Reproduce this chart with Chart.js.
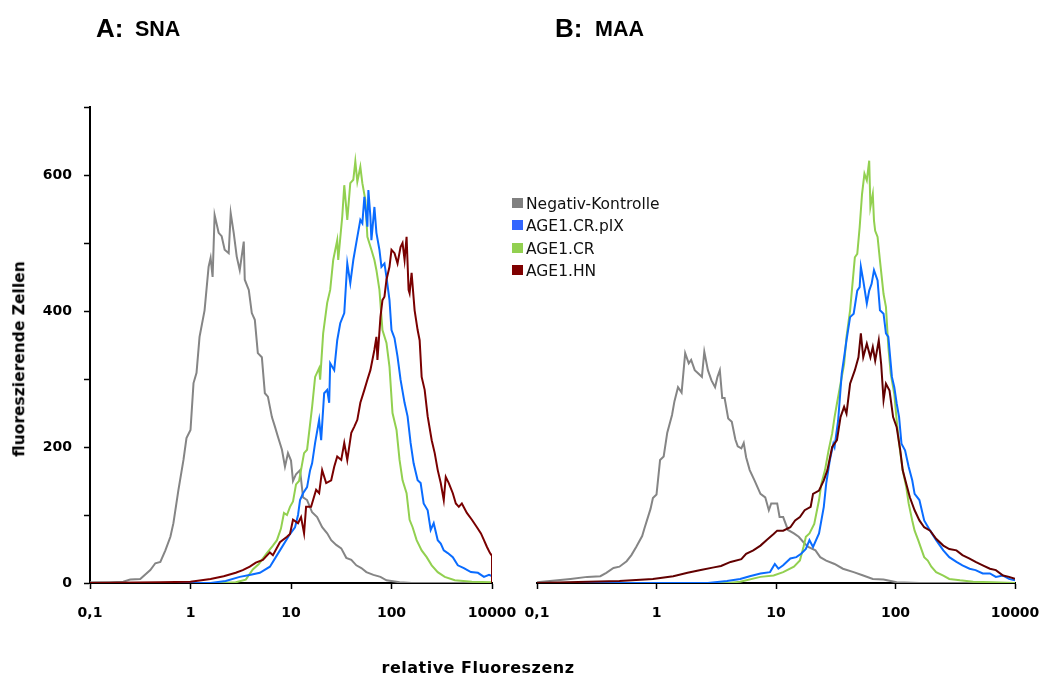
<!DOCTYPE html>
<html>
<head>
<meta charset="utf-8">
<script src="https://cdn.jsdelivr.net/npm/chart.js@4.4.1/dist/chart.umd.min.js"></script>
<style>
html,body{margin:0;padding:0;background:#fff;}
#wrap{position:relative;width:1042px;height:676px;overflow:hidden;background:#fff;}
canvas{position:absolute;top:0;}
.t{position:absolute;font-family:"Liberation Sans",Arial,sans-serif;font-weight:bold;color:#000;white-space:nowrap;line-height:1;}
.big{font-size:26px;}
.small{font-size:21.5px;}
.ax{position:absolute;font-family:"DejaVu Sans",Verdana,sans-serif;font-weight:bold;color:#000;white-space:nowrap;line-height:1;}
.lg{position:absolute;left:512px;font-family:"DejaVu Sans",Verdana,sans-serif;font-size:15.5px;color:#111;white-space:nowrap;line-height:1;z-index:5;}
.lg span.sw{display:inline-block;width:11px;height:10px;margin-right:3px;vertical-align:1px;}
</style>
</head>
<body>
<div id="wrap">
  <canvas id="cB" width="560" height="676" style="left:500px;width:560px;height:676px;"></canvas>
  <canvas id="cA" width="540" height="676" style="left:0px;width:540px;height:676px;"></canvas>

  <div class="t big" style="left:96px;top:15px;">A:</div>
  <div class="t small" style="left:135px;top:19px;">SNA</div>
  <div class="t big" style="left:555px;top:15px;">B:</div>
  <div class="t small" style="left:595px;top:19px;">MAA</div>

  <div class="ax" style="left:20px;top:359px;font-size:15.5px;transform:translate(-50%,-50%) rotate(-90deg);">fluoreszierende Zellen</div>
  <div class="ax" style="left:478px;top:668px;font-size:16px;letter-spacing:0.5px;transform:translate(-50%,-50%);">relative Fluoreszenz</div>

  <div id="legend"></div>
</div>
<script>
// ---- tick labels ----
const xTickLabels = ['0,1', '1', '10', '100', '10000'];
const yLabelValues = [0, 200, 400, 600];

// ---- series names / colours ----
const seriesNames = ['Negativ-Kontrolle', 'AGE1.CR.pIX', 'AGE1.CR', 'AGE1.HN'];
const seriesColors = ['#858585', '#0a6cff', '#92d050', '#7a0000'];
const legendColors = ['#808080', '#3366ff', '#92d050', '#7f0000'];

// ---- x in decades (log10 of relative fluorescence) ----
// Panel A: SNA
const snaNegX = [-1.00,-0.80,-0.67,-0.60,-0.50,-0.40,-0.35,-0.30,-0.25,-0.20,-0.17,-0.12,-0.07,-0.04,0.00,0.03,0.06,0.09,0.14,0.18,0.20,0.22,0.24,0.28,0.31,0.34,0.38,0.40,0.43,0.46,0.49,0.53,0.54,0.58,0.61,0.64,0.67,0.71,0.74,0.77,0.81,0.84,0.87,0.91,0.94,0.97,1.00,1.02,1.05,1.09,1.12,1.16,1.21,1.26,1.31,1.36,1.40,1.45,1.50,1.55,1.60,1.65,1.70,1.75,1.82,1.89,1.95,2.08,2.20,3.00];
const snaNegY = [1,1,2,5,6,19,29,31,48,68,88,137,181,213,225,294,309,362,401,465,478,450,541,515,510,490,485,544,515,480,460,502,446,431,397,387,338,332,279,274,244,230,215,196,171,191,180,150,160,166,126,122,104,97,82,73,63,56,51,37,34,26,22,16,12,9,4,1,0,0];

const snaPixX = [-1.00,0.20,0.35,0.49,0.60,0.69,0.79,0.89,0.99,1.04,1.07,1.09,1.12,1.16,1.19,1.21,1.24,1.28,1.30,1.33,1.36,1.38,1.39,1.43,1.46,1.49,1.53,1.56,1.59,1.62,1.66,1.69,1.71,1.73,1.76,1.77,1.79,1.80,1.83,1.85,1.88,1.90,1.93,1.95,1.98,2.00,2.03,2.06,2.09,2.13,2.16,2.19,2.22,2.26,2.29,2.32,2.36,2.39,2.42,2.46,2.49,2.52,2.56,2.61,2.66,2.72,2.79,2.86,2.92,2.97,3.00];
const snaPixY = [0,0,3,9,12,15,24,48,72,82,100,122,132,141,166,176,206,240,210,279,284,265,323,313,357,382,397,470,441,475,509,534,529,568,524,578,539,504,553,515,490,465,470,450,416,372,360,333,299,265,245,206,176,151,147,117,107,78,88,63,58,48,44,38,26,22,16,15,9,12,10];

const snaCrX = [-1.00,0.30,0.45,0.55,0.62,0.68,0.76,0.82,0.86,0.90,0.93,0.96,0.99,1.02,1.05,1.08,1.13,1.16,1.21,1.24,1.28,1.29,1.32,1.36,1.39,1.42,1.46,1.47,1.51,1.53,1.56,1.59,1.62,1.64,1.66,1.69,1.71,1.74,1.76,1.80,1.83,1.85,1.88,1.91,1.95,1.98,2.01,2.05,2.08,2.11,2.15,2.18,2.21,2.25,2.30,2.35,2.40,2.46,2.53,2.63,2.80,3.00];
const snaCrY = [0,0,1,5,20,28,44,55,63,80,103,100,112,120,145,150,191,196,259,303,316,299,367,412,431,475,504,475,539,585,534,588,593,620,590,612,588,563,509,490,475,460,431,372,353,318,250,225,181,151,132,93,82,63,48,38,26,16,9,4,2,1];

const snaHnX = [-1.00,-0.30,0.00,0.20,0.33,0.45,0.52,0.59,0.65,0.72,0.79,0.82,0.89,0.96,0.99,1.02,1.07,1.10,1.13,1.15,1.20,1.25,1.28,1.31,1.35,1.40,1.43,1.46,1.50,1.53,1.56,1.60,1.63,1.66,1.69,1.73,1.76,1.79,1.83,1.85,1.86,1.89,1.91,1.93,1.95,1.98,2.00,2.03,2.06,2.09,2.11,2.13,2.15,2.17,2.18,2.20,2.23,2.26,2.28,2.30,2.33,2.36,2.40,2.43,2.46,2.49,2.52,2.54,2.57,2.61,2.64,2.67,2.70,2.75,2.80,2.85,2.89,2.92,2.95,2.98,3.00,3.00];
const snaHnY = [0,1,2,6,10,15,19,24,30,34,45,41,60,68,72,93,88,97,73,112,112,137,132,166,147,151,171,186,181,206,181,221,230,240,265,284,299,313,343,362,328,391,416,421,446,465,490,485,470,494,500,475,509,431,426,456,401,372,357,303,284,245,210,191,166,147,122,156,147,132,117,112,117,103,93,82,73,63,53,44,40,0];

// Panel B: MAA
const maaNegX = [-1.00,-0.72,-0.58,-0.47,-0.42,-0.36,-0.31,-0.25,-0.21,-0.17,-0.12,-0.10,-0.05,-0.03,0.00,0.03,0.06,0.09,0.13,0.15,0.18,0.21,0.24,0.27,0.29,0.32,0.35,0.38,0.40,0.43,0.46,0.49,0.51,0.53,0.55,0.57,0.60,0.63,0.66,0.68,0.71,0.73,0.75,0.78,0.82,0.87,0.91,0.94,0.96,1.01,1.03,1.06,1.10,1.15,1.19,1.23,1.27,1.33,1.37,1.42,1.49,1.56,1.65,1.73,1.81,1.90,2.01,2.20,3.00];
const maaNegY = [1,6,9,10,15,22,24,32,41,53,69,81,109,125,130,181,186,221,247,267,288,280,338,323,328,313,308,303,340,313,298,288,303,313,272,272,242,237,211,201,198,206,185,166,151,131,126,107,117,117,97,97,78,73,68,60,53,48,38,33,28,21,16,11,6,5,1,0,0];

const maaPixX = [-1.00,0.43,0.59,0.70,0.78,0.87,0.95,0.99,1.02,1.06,1.12,1.17,1.21,1.25,1.28,1.31,1.36,1.40,1.42,1.45,1.48,1.49,1.52,1.55,1.57,1.59,1.62,1.65,1.68,1.70,1.71,1.73,1.76,1.78,1.80,1.82,1.85,1.87,1.90,1.92,1.94,1.97,1.99,2.01,2.03,2.05,2.08,2.11,2.14,2.16,2.20,2.24,2.29,2.34,2.40,2.45,2.51,2.56,2.62,2.67,2.73,2.79,2.84,2.90,2.95,3.00];
const maaPixY = [0,0,3,6,10,14,16,28,21,26,36,38,43,50,63,53,73,112,146,180,205,200,239,308,332,357,391,396,430,435,465,445,411,430,440,460,445,401,396,367,362,303,288,264,244,205,195,171,151,131,122,92,77,63,48,38,31,26,21,19,14,14,9,11,6,4];

const maaCrX = [-1.00,0.60,0.70,0.87,0.98,1.06,1.15,1.20,1.23,1.25,1.28,1.32,1.36,1.38,1.41,1.44,1.47,1.49,1.51,1.54,1.57,1.59,1.62,1.64,1.66,1.68,1.70,1.72,1.74,1.76,1.78,1.79,1.81,1.82,1.83,1.85,1.87,1.90,1.92,1.94,1.96,1.99,2.01,2.03,2.06,2.09,2.11,2.14,2.16,2.19,2.22,2.24,2.27,2.30,2.34,2.40,2.45,2.54,2.65,2.81,3.00];
const maaCrY = [0,0,2,9,11,16,24,33,53,68,73,87,122,146,166,195,220,244,264,293,322,362,401,440,479,484,523,572,602,592,621,553,572,533,518,509,474,425,406,347,308,278,239,205,166,141,117,92,77,63,48,38,33,24,16,11,6,4,2,1,0];

const maaHnX = [-1.00,-0.31,-0.03,0.14,0.26,0.37,0.48,0.54,0.62,0.71,0.75,0.81,0.87,0.92,0.98,1.01,1.06,1.12,1.16,1.20,1.24,1.29,1.31,1.36,1.40,1.43,1.47,1.51,1.54,1.57,1.59,1.62,1.66,1.69,1.71,1.73,1.76,1.79,1.81,1.83,1.86,1.88,1.90,1.92,1.95,1.98,2.01,2.04,2.06,2.09,2.12,2.16,2.20,2.24,2.29,2.34,2.40,2.45,2.51,2.56,2.62,2.67,2.73,2.79,2.84,2.90,2.95,3.00];
const maaHnY = [0,3,6,10,15,19,23,25,31,35,43,48,55,63,72,77,77,82,92,97,107,112,131,136,151,166,200,210,244,259,249,293,313,332,367,332,352,332,347,327,357,322,269,293,283,244,229,195,166,146,126,107,92,82,77,65,55,50,48,41,36,31,26,21,19,11,9,6];

function pts(xs, ys) { return xs.map((x, i) => ({x: x, y: ys[i]})); }

const tickFont = {family: 'DejaVu Sans', weight: 'bold', size: 14};

function makeDatasets(neg, pix, cr, hn, hnColor) {
  const mk = (label, data, color, order) => ({
    label, data, borderColor: color, backgroundColor: color,
    borderWidth: 2, pointRadius: 0, pointHoverRadius: 0, fill: false, tension: 0, order
  });
  return [
    mk(seriesNames[3], hn, hnColor, 0),
    mk(seriesNames[1], pix, seriesColors[1], 1),
    mk(seriesNames[2], cr, seriesColors[2], 2),
    mk(seriesNames[0], neg, seriesColors[0], 3)
  ];
}

function makeChart(id, datasets, showY, padding) {
  return new Chart(document.getElementById(id), {
    type: 'line',
    data: {datasets},
    options: {
      responsive: false,
      animation: false,
      events: [],
      layout: {padding},
      plugins: {legend: {display: false}, tooltip: {enabled: false}},
      scales: {
        x: {
          type: 'linear', min: -1, max: 3,
          ticks: {
            stepSize: 1, autoSkip: false, maxRotation: 0, color: '#000', font: tickFont, padding: 16,
            callback: (v, i) => xTickLabels[i]
          },
          grid: {drawOnChartArea: false, drawTicks: true, tickLength: 6, tickColor: '#000', tickWidth: 1.5, color: '#000'},
          border: {display: true, color: '#000', width: 2},
          afterFit: s => { s.height = 60; }
        },
        y: {
          display: showY,
          min: 0, max: 700,
          ticks: {
            stepSize: 100, color: '#000', font: tickFont, padding: 12,
            callback: v => (yLabelValues.includes(v) ? String(v) : '')
          },
          grid: {drawOnChartArea: false, drawTicks: true, tickLength: 6, tickColor: '#000', tickWidth: 1.5, color: '#000'},
          border: {display: true, color: '#000', width: 2},
          afterFit: s => { if (showY) s.width = 90; }
        }
      }
    }
  });
}

// canvas A: x 0..540, plot area 90..492
makeChart('cA', makeDatasets(pts(snaNegX, snaNegY), pts(snaPixX, snaPixY), pts(snaCrX, snaCrY), pts(snaHnX, snaHnY), '#7a0000'),
  true, {left: 0, top: 107, right: 48, bottom: 33});
// canvas B: x 500..1060, plot area 537..1015
makeChart('cB', makeDatasets(pts(maaNegX, maaNegY), pts(maaPixX, maaPixY), pts(maaCrX, maaCrY), pts(maaHnX, maaHnY), '#620000'),
  false, {left: 37, top: 107, right: 45, bottom: 33});

// legend (HTML)
const lg = document.getElementById('legend');
const lgTops = [197, 219, 242, 264];
seriesNames.forEach((name, i) => {
  const d = document.createElement('div');
  d.className = 'lg';
  d.style.top = lgTops[i] + 'px';
  d.innerHTML = '<span class="sw" style="background:' + legendColors[i] + '"></span>' + name;
  lg.appendChild(d);
});
</script>
</body>
</html>
